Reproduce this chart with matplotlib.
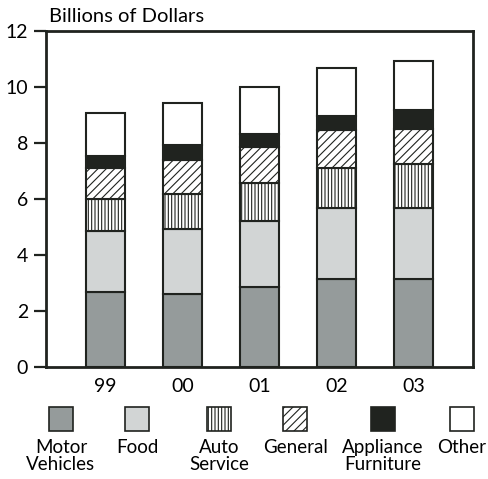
import matplotlib
matplotlib.use("Agg")
import matplotlib.pyplot as plt
from matplotlib.patches import Rectangle

# datos (miles de millones de dolares)
anios = ["99", "00", "01", "02", "03"]
categorias = ["Motor\nVehicles", "Food", "Auto\nService", "General", "Appliance\nFurniture", "Other"]
motor = [2.67, 2.60, 2.87, 3.15, 3.15]
comida = [2.20, 2.34, 2.36, 2.55, 2.55]
servicio = [1.13, 1.26, 1.35, 1.43, 1.54]
general = [1.10, 1.19, 1.29, 1.33, 1.28]
aparatos = [0.45, 0.54, 0.45, 0.52, 0.66]
otros = [1.51, 1.49, 1.69, 1.69, 1.75]

series = [motor, comida, servicio, general, aparatos, otros]
OSCURO = "#20231f"
rellenos = ["#959b9b", "#d2d5d5", "white", "white", OSCURO, "white"]
tramas = [None, None, "|||||", "////", None, None]

plt.rcParams["font.family"] = ["Lato", "DejaVu Sans"]
plt.rcParams["hatch.linewidth"] = 0.8
plt.rcParams["hatch.color"] = OSCURO

fig = plt.figure(figsize=(4.89, 4.79), dpi=100)
ax = fig.add_axes([0.0941, 0.2338, 0.873, 0.701])

x = list(range(len(anios)))
base = [0] * len(anios)
for valores, color, trama in zip(series, rellenos, tramas):
    ax.bar(x, valores, width=0.5, bottom=base, color=color, edgecolor=OSCURO,
           linewidth=1.5, hatch=trama)
    base = [b + v for b, v in zip(base, valores)]

ax.set_xlim(-0.77, 4.77)
ax.set_ylim(0, 12)
ax.set_yticks(range(0, 13, 2))
ax.set_xticks(x)
ax.set_xticklabels(anios)
ax.tick_params(axis="y", length=9, width=1.6, pad=4, labelsize=14, color=OSCURO)
ax.tick_params(axis="x", length=0, pad=8, labelsize=14)
for lado in ax.spines.values():
    lado.set_linewidth(2)
    lado.set_color(OSCURO)

ax.text(0.007, 1.027, "Billions of Dollars", transform=ax.transAxes,
        fontsize=14.5, va="baseline", ha="left")

# leyenda manual: cuadros con el texto debajo
centros = [61, 137.5, 219.5, 295.5, 383, 462]
lado_px = 24
for cx, color, trama, nombre in zip(centros, rellenos, tramas, categorias):
    r = Rectangle(((cx - lado_px / 2) / 489, (479 - 431) / 479), lado_px / 489, lado_px / 479,
                  transform=fig.transFigure, facecolor=color, edgecolor=OSCURO,
                  linewidth=1.2, hatch=trama)
    fig.add_artist(r)
    fig.text(cx / 489, (479 - 439) / 479, nombre, ha="center", va="top",
             fontsize=13.5, linespacing=1.0, multialignment="center")

fig.savefig("out.png", dpi=100)
